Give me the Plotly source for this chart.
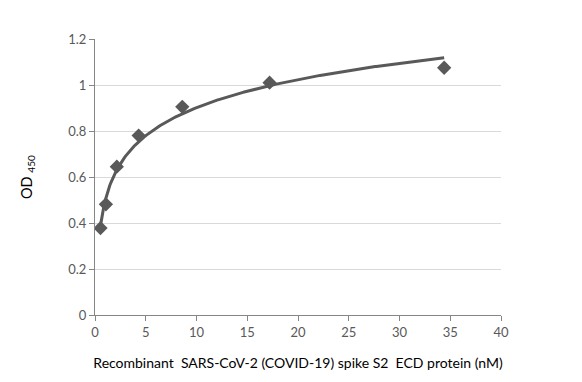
import numpy as np
import plotly.graph_objects as go

concentration_nM = [0.54, 1.075, 2.15, 4.3, 8.6, 17.2, 34.4]
od450 = [0.378, 0.481, 0.645, 0.780, 0.905, 1.010, 1.075]
x_ticks = [0, 5, 10, 15, 20, 25, 30, 35, 40]
y_ticks = [0, 0.2, 0.4, 0.6, 0.8, 1, 1.2]

# Logarithmic trendline (least squares fit of y = a*ln(x) + b), as in the original
a, b = np.polyfit(np.log(concentration_nM), od450, 1)
xf = np.linspace(min(concentration_nM), max(concentration_nM), 300)
yf = a * np.log(xf) + b

col = "#595959"
fig = go.Figure()
fig.add_trace(go.Scatter(x=concentration_nM, y=od450, mode="markers",
                         marker=dict(symbol="diamond", size=11, color=col),
                         showlegend=False))
fig.add_trace(go.Scatter(x=xf, y=yf, mode="lines",
                         line=dict(color=col, width=3), showlegend=False))

font = "Lato, 'Open Sans', sans-serif"
fig.update_layout(
    width=574, height=374,
    margin=dict(l=87, r=81, t=31, b=67),
    paper_bgcolor="white", plot_bgcolor="white",
    font=dict(family=font, size=13, color="#404040"),
    xaxis=dict(range=[0, 40], tickvals=x_ticks, showgrid=False, zeroline=False,
               showline=True, linecolor="#868686", linewidth=1,
               ticks="outside", ticklen=5, tickcolor="#868686",
               tickfont=dict(size=13, color="#595959"),
               title=dict(text="Recombinant  SARS-CoV-2 (COVID-19) spike S2  ECD protein (nM)",
                          font=dict(size=14, color="#000000"), standoff=19)),
    yaxis=dict(range=[0, 1.2], tickvals=y_ticks, showgrid=True, gridcolor="#d9d9d9",
               gridwidth=1, zeroline=False,
               showline=True, linecolor="#868686", linewidth=1,
               ticks="outside", ticklen=5, tickcolor="#868686",
               tickfont=dict(size=13, color="#595959"),
               title=dict(text="OD <sub>450</sub>", font=dict(size=14.5, color="#000000"),
                          standoff=32)),
)
fig.write_html("out.html")
